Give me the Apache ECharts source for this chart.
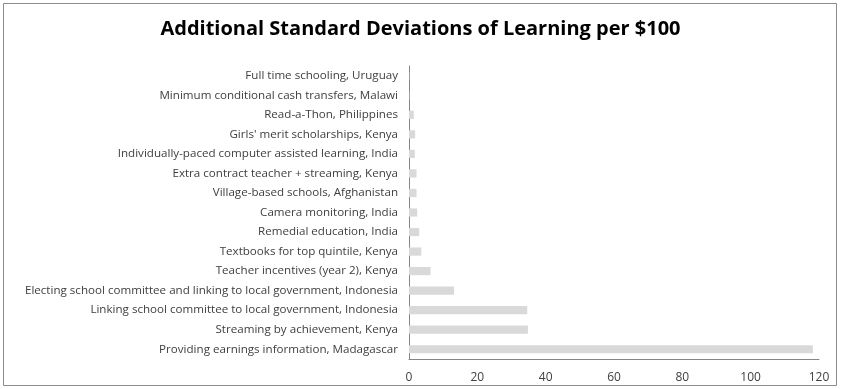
<!DOCTYPE html>
<html><head><meta charset="utf-8">
<script src="https://cdn.jsdelivr.net/npm/echarts@6/dist/echarts.min.js"></script>
<style>html,body{margin:0;padding:0;background:#fff}#c{width:841px;height:389px}</style>
</head><body><div id="c"></div>
<script>
const categories = [
  "Providing earnings information, Madagascar",
  "Streaming by achievement, Kenya",
  "Linking school committee to local government, Indonesia",
  "Electing school committee and linking to local government, Indonesia",
  "Teacher incentives (year 2), Kenya",
  "Textbooks for top quintile, Kenya",
  "Remedial education, India",
  "Camera monitoring, India",
  "Village-based schools, Afghanistan",
  "Extra contract teacher + streaming, Kenya",
  "Individually-paced computer assisted learning, India",
  "Girls' merit scholarships, Kenya",
  "Read-a-Thon, Philippines",
  "Minimum conditional cash transfers, Malawi",
  "Full time schooling, Uruguay"
];
const values = [118.2, 34.8, 34.6, 13.2, 6.3, 3.6, 3.0, 2.4, 2.2, 2.2, 1.7, 1.8, 1.4, 0.1, 0.07];
const xTicks = [0, 20, 40, 60, 80, 100, 120];
const titleText = "Additional Standard Deviations of Learning per $100";

const chart = echarts.init(document.getElementById('c'), null, {renderer: 'canvas'});
chart.setOption({
  animation: false,
  backgroundColor: '#fff',
  title: {
    text: titleText, left: 'center', top: 14,
    textStyle: {fontFamily: 'Open Sans', fontWeight: 'bold', fontSize: 20, color: '#000'}
  },
  graphic: [{
    type: 'rect', shape: {x: 3.5, y: 3.5, width: 833, height: 382},
    style: {fill: 'none', stroke: '#8c8c8c', lineWidth: 1}, silent: true
  }],
  grid: {left: 409, right: 22, top: 66, bottom: 30, containLabel: false},
  xAxis: {
    type: 'value', min: xTicks[0], max: xTicks[xTicks.length - 1], interval: 20,
    axisLine: {show: true, lineStyle: {color: '#868686'}},
    axisTick: {show: false},
    splitLine: {show: false},
    axisLabel: {color: '#404040', fontFamily: 'Open Sans', fontSize: 12, margin: 13}
  },
  yAxis: {
    type: 'category', data: categories,
    axisLine: {show: true, lineStyle: {color: '#868686'}},
    axisTick: {show: false},
    axisLabel: {color: '#404040', fontFamily: 'Open Sans', fontSize: 11.6, margin: 11}
  },
  series: [{
    type: 'bar', data: values, barCategoryGap: '58%',
    itemStyle: {color: '#d9d9d9'}
  }]
});
</script></body></html>
